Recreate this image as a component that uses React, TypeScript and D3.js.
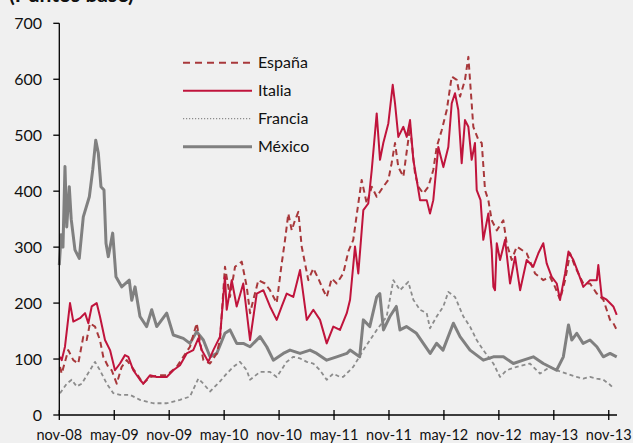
import React from "react";
import * as d3 from "d3";

// months since Nov 2008, value in basis points
const espana: [number, number][] = [
  [0.08, 86], [0.26, 74], [0.98, 116], [1.53, 98], [2.07, 92], [2.62, 140], [2.99, 134], [3.35, 164], [3.9, 158],
  [4.44, 134], [4.8, 104], [5.35, 86], [5.72, 80], [6.27, 56], [6.81, 86], [7.36, 98], [7.91, 86], [8.45, 74],
  [9.17, 56], [9.9, 68], [11.0, 71], [11.73, 71], [12.82, 86], [13.54, 104], [14.27, 122], [15.0, 164], [15.73, 98],
  [16.46, 92], [17.19, 110], [17.55, 134], [18.09, 265], [18.64, 211], [19.19, 265], [19.92, 274], [20.47, 229],
  [20.83, 182], [21.19, 206], [21.74, 241], [22.46, 235], [23.01, 223], [23.74, 200], [24.29, 271], [24.65, 313],
  [25.01, 360], [25.38, 330], [25.74, 348], [26.1, 363], [26.47, 301], [26.83, 271], [27.19, 241], [27.74, 262],
  [28.28, 244], [28.83, 223], [29.2, 211], [29.75, 244], [30.29, 235], [31.01, 253], [31.56, 292], [32.1, 313],
  [32.65, 378], [33.02, 420], [33.57, 378], [34.12, 408], [34.66, 390], [35.38, 408], [35.93, 420], [36.29, 450],
  [36.66, 486], [37.02, 443], [37.57, 426], [38.3, 515], [38.84, 432], [39.2, 408], [39.75, 396], [40.3, 408],
  [40.84, 438], [41.21, 479], [41.76, 509], [42.31, 545], [42.85, 605], [43.4, 599], [43.76, 569], [44.3, 599],
  [44.67, 640], [45.03, 557], [45.21, 515], [45.76, 492], [46.13, 486], [46.49, 402], [46.85, 384], [47.22, 348],
  [47.77, 330], [48.49, 348], [48.85, 307], [49.4, 277], [49.95, 301], [51.04, 289], [51.95, 253], [52.85, 241],
  [53.58, 247], [54.13, 229], [54.68, 206], [55.23, 241], [55.78, 289], [56.32, 265], [57.22, 235], [57.95, 235],
  [58.69, 217], [59.41, 206], [59.77, 188], [60.14, 170], [60.5, 164], [60.87, 152],
];

const italia: [number, number][] = [
  [0.08, 104], [0.26, 98], [0.62, 122], [1.17, 200], [1.53, 167], [2.26, 173], [2.81, 182], [3.17, 164], [3.54, 194],
  [4.08, 200], [4.44, 176], [4.99, 134], [5.54, 116], [6.08, 80], [6.63, 92], [7.17, 107], [7.54, 104], [8.08, 80],
  [8.81, 63], [9.17, 56], [9.9, 71], [10.64, 68], [11.73, 68], [12.45, 80], [13.18, 89], [13.91, 110], [14.63, 116],
  [15.18, 137], [15.55, 116], [16.27, 95], [16.82, 116], [17.55, 140], [18.09, 247], [18.28, 188], [18.83, 241],
  [19.37, 194], [20.09, 235], [20.83, 134], [21.56, 217], [22.28, 223], [23.01, 194], [23.74, 170], [24.29, 194],
  [24.83, 217], [25.55, 211], [26.29, 259], [27.02, 170], [27.74, 188], [28.47, 170], [29.2, 128], [29.92, 158],
  [30.65, 152], [31.39, 182], [31.75, 206], [32.29, 301], [32.65, 253], [33.2, 366], [33.74, 378], [34.12, 438],
  [34.66, 539], [35.02, 456], [35.38, 486], [35.93, 521], [36.41, 590], [36.66, 557], [37.02, 497], [37.57, 515],
  [37.94, 497], [38.3, 527], [38.66, 456], [39.03, 420], [39.39, 384], [40.12, 384], [40.48, 360], [40.84, 384],
  [41.39, 479], [41.94, 443], [42.48, 479], [42.85, 557], [43.21, 575], [43.57, 545], [43.94, 450], [44.3, 527],
  [44.67, 515], [45.03, 456], [45.39, 486], [45.58, 402], [46.0, 384], [46.3, 313], [46.85, 360], [47.22, 295],
  [47.4, 229], [47.58, 223], [47.77, 307], [48.13, 277], [48.68, 313], [49.22, 235], [49.77, 283], [50.32, 223],
  [51.04, 277], [51.76, 265], [52.31, 289], [52.85, 307], [53.22, 271], [53.77, 247], [54.32, 235], [54.68, 206],
  [55.23, 253], [55.6, 292], [56.14, 277], [56.69, 253], [57.22, 229], [57.95, 241], [58.69, 241], [58.86, 268],
  [59.23, 211], [59.77, 206], [60.5, 194], [60.87, 179],
];

const francia: [number, number][] = [
  [0.08, 39], [0.81, 56], [1.35, 63], [1.9, 51], [2.45, 56], [3.35, 80], [3.9, 95], [4.44, 80], [5.18, 56],
  [5.9, 39], [6.63, 36], [7.72, 36], [8.81, 27], [10.27, 21], [11.73, 21], [13.18, 27], [14.27, 33], [15.18, 65],
  [15.73, 56], [16.46, 42], [17.55, 60], [18.28, 74], [19.0, 86], [19.73, 95], [20.47, 80], [20.83, 63], [21.92, 77],
  [23.01, 77], [23.74, 68], [24.83, 95], [25.55, 104], [26.29, 101], [27.02, 95], [27.74, 92], [28.47, 80],
  [29.2, 63], [29.92, 74], [30.65, 68], [31.0, 68], [32.1, 86], [33.2, 116], [34.66, 152], [35.75, 176],
  [36.48, 241], [37.2, 223], [38.11, 238], [38.66, 206], [39.39, 188], [40.12, 182], [40.48, 155], [41.21, 176],
  [41.94, 194], [42.48, 220], [43.21, 211], [44.12, 176], [44.85, 158], [45.58, 134], [46.3, 116], [47.4, 92],
  [47.94, 74], [48.13, 68], [48.85, 80], [49.95, 86], [51.4, 92], [52.49, 74], [53.58, 86], [54.3, 80], [55.4, 74],
  [56.5, 68], [57.22, 65], [57.95, 68], [58.69, 65], [59.41, 63], [60.14, 54], [60.5, 48],
];

const mexico: [number, number][] = [
  [0.0, 268], [0.2, 322], [0.4, 300], [0.62, 444], [0.81, 336], [1.09, 408], [1.3, 350], [1.71, 295], [2.18, 280],
  [2.62, 354], [3.28, 390], [3.65, 438], [3.98, 491], [4.26, 468], [4.55, 408], [4.88, 402], [5.1, 307], [5.35, 283],
  [5.83, 325], [6.19, 247], [6.81, 229], [7.64, 241], [7.91, 205], [8.27, 229], [8.81, 176], [9.54, 158], [10.09, 188],
  [10.64, 158], [11.73, 182], [12.45, 143], [13.54, 137], [14.27, 128], [15.0, 149], [15.73, 134], [16.46, 104],
  [17.19, 110], [18.09, 146], [18.64, 152], [19.37, 128], [20.09, 128], [20.83, 122], [21.92, 140], [22.65, 122],
  [23.37, 98], [24.46, 110], [25.19, 116], [26.29, 110], [27.38, 116], [28.11, 110], [29.2, 98], [30.29, 104],
  [31.4, 110], [31.75, 116], [32.8, 104], [33.2, 170], [33.9, 158], [34.66, 211], [35.0, 217], [35.4, 152],
  [36.1, 176], [36.8, 194], [37.2, 152], [37.9, 158], [39.0, 146], [40.5, 110], [41.2, 128], [41.9, 116],
  [43.03, 164], [43.76, 140], [44.85, 116], [46.3, 98], [47.4, 104], [48.5, 104], [49.58, 92], [50.67, 98],
  [51.76, 104], [52.85, 92], [54.3, 80], [55.04, 104], [55.6, 161], [55.96, 134], [56.5, 146], [57.2, 128],
  [57.95, 134], [58.7, 122], [59.4, 104], [60.14, 110], [60.87, 104],
];

const xTickMonths = [0, 6, 12, 18, 24, 30, 36, 42, 48, 54, 60];
const xTickLabels = ["nov-08", "may-09", "nov-09", "may-10", "nov-10", "may-11", "nov-11", "may-12", "nov-12", "may-13", "nov-13"];
const yTicks = [0, 100, 200, 300, 400, 500, 600, 700];

const seriesNames = ["España", "Italia", "Francia", "México"];

const FONT = "Lato, 'Open Sans', sans-serif";

export default function App() {
  const W = 633, H = 443;
  const x = d3.scaleLinear().domain([0, 60.9]).range([59.3, 617]);
  const y = d3.scaleLinear().domain([0, 700]).range([415, 23.3]);
  const line = d3.line<[number, number]>().x(d => x(d[0])).y(d => y(d[1]));

  const styles = [
    { data: espana, stroke: "#a8383b", width: 2, dash: "6,4", legendDash: "7,5" },
    { data: italia, stroke: "#c0143c", width: 2, dash: undefined, legendDash: undefined },
    { data: francia, stroke: "#8c8c8c", width: 1.8, dash: "4,3", legendDash: "1.2,1.8" },
    { data: mexico, stroke: "#808080", width: 3, dash: undefined, legendDash: undefined },
  ];
  const drawOrder = [2, 3, 0, 1];

  return (
    <svg width={W} height={H} style={{ position: "absolute", left: 0, top: 0, background: "#f0f0f0" }} fontFamily={FONT}>
      <rect x={0} y={0} width={W} height={H} fill="#f0f0f0" />
      <text x={9} y={2} fontSize={21} fontWeight="bold" fill="#111">(Puntos base)</text>

      {drawOrder.map(i => {
        const s = styles[i];
        return (
          <path key={i} d={line(s.data) || ""} fill="none" stroke={s.stroke} strokeWidth={s.width}
            strokeDasharray={s.dash} strokeLinejoin="round" />
        );
      })}

      {/* Y axis */}
      <line x1={x(0)} x2={x(0)} y1={y(700)} y2={y(0)} stroke="#000" strokeWidth={1.3} />
      {yTicks.map(t => (
        <g key={t}>
          <line x1={x(0) - 6} x2={x(0)} y1={y(t)} y2={y(t)} stroke="#000" strokeWidth={1.3} />
          <text x={42} y={y(t)} dy="0.36em" textAnchor="end" fontSize={16} fill="#111">{t}</text>
        </g>
      ))}

      {/* X axis */}
      <line x1={x(0)} x2={617} y1={y(0)} y2={y(0)} stroke="#000" strokeWidth={1.3} />
      {xTickMonths.map((m, i) => (
        <g key={m}>
          <line x1={x(m)} x2={x(m)} y1={y(0) - 5} y2={y(0) + 5} stroke="#000" strokeWidth={1.3} />
          <text x={x(m)} y={440} textAnchor="middle" fontSize={14.5} fill="#111">{xTickLabels[i]}</text>
        </g>
      ))}

      {/* Legend */}
      {seriesNames.map((n, i) => {
        const s = styles[i];
        const ly = 62.7 + i * 28;
        return (
          <g key={n}>
            <line x1={183} x2={252} y1={ly} y2={ly} stroke={s.stroke}
              strokeWidth={i === 2 ? 1.2 : s.width} strokeDasharray={s.legendDash} />
            <text x={258} y={ly} dy="0.36em" fontSize={16} fill="#111">{n}</text>
          </g>
        );
      })}
    </svg>
  );
}
